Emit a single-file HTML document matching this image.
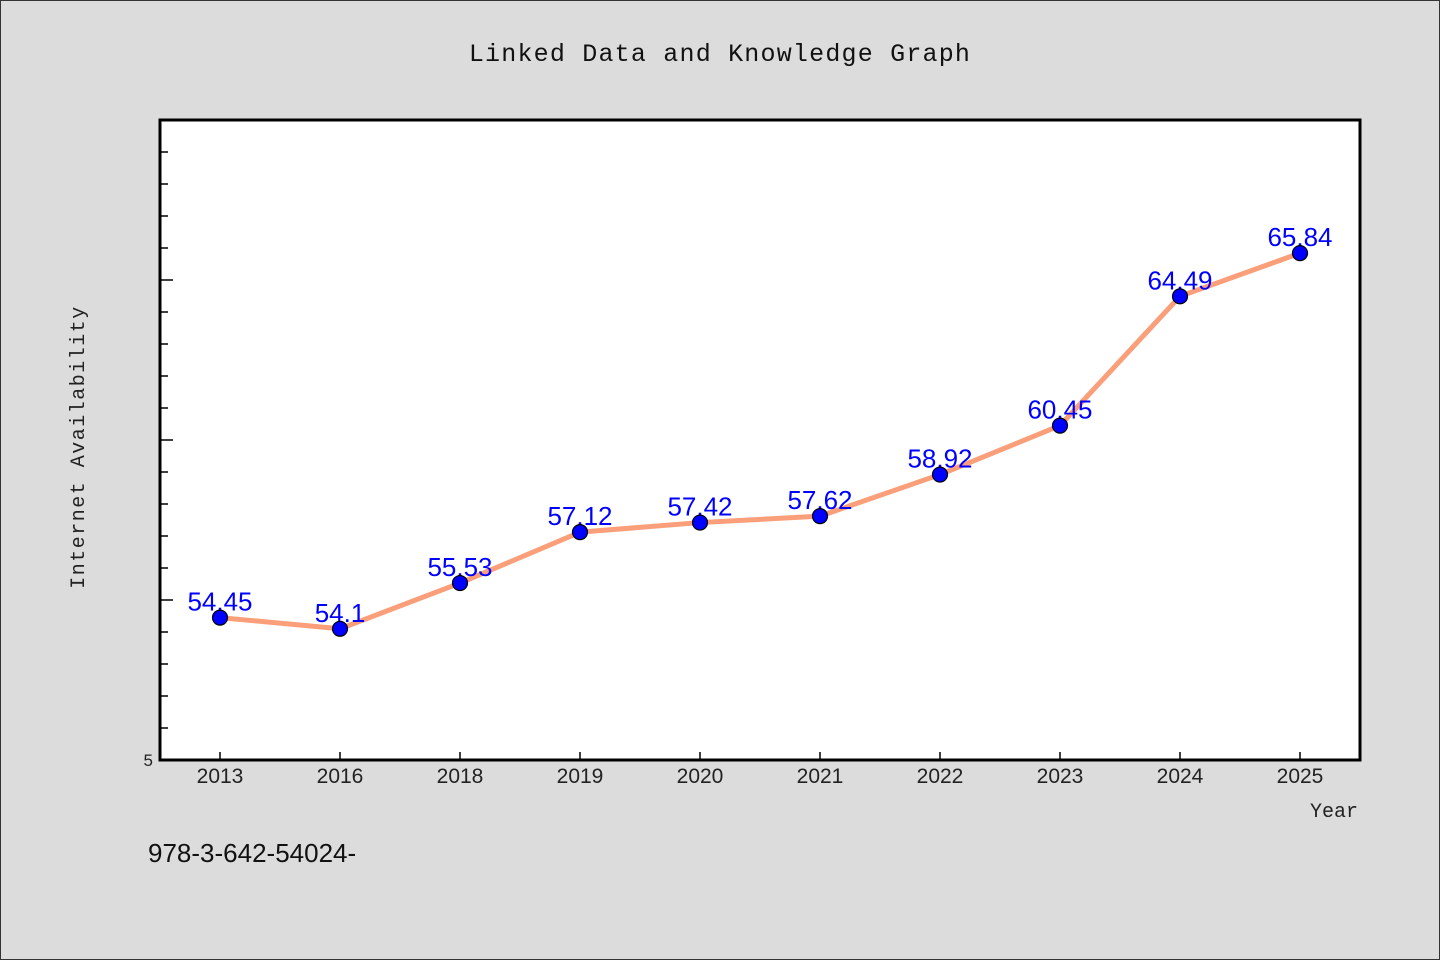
<!DOCTYPE html>
<html><head><meta charset="utf-8"><style>
html,body{margin:0;padding:0;background:#dcdcdc;}
svg{display:block;}
</style></head><body>
<svg id="chart" width="1440" height="960" xmlns="http://www.w3.org/2000/svg">
<rect x="0.5" y="0.5" width="1439" height="959" fill="#dcdcdc" stroke="#333" stroke-width="1"/>
<text x="720" y="61" text-anchor="middle" font-family="Liberation Mono, monospace" font-size="25" letter-spacing="1.2" fill="#111">Linked Data and Knowledge Graph</text>
<rect x="160" y="120" width="1200" height="640" fill="#fff"/>
<g id="ticks"></g>
<g id="series"></g>
<rect x="160" y="120" width="1200" height="640" fill="none" stroke="#000" stroke-width="3"/>
<text transform="translate(84,447) rotate(-90)" text-anchor="middle" font-family="Liberation Mono, monospace" font-size="20" letter-spacing="1.5" fill="#222">Internet Availability</text>
<text x="1358" y="817" text-anchor="end" font-family="Liberation Mono, monospace" font-size="20" fill="#222">Year</text>
<text x="153" y="766" text-anchor="end" font-family="Liberation Sans, sans-serif" font-size="17" fill="#222">5</text>
<text x="148" y="862" font-family="Liberation Sans, sans-serif" font-size="26" fill="#111">978-3-642-54024-</text>
</svg>
<script>
const categories=["2013","2016","2018","2019","2020","2021","2022","2023","2024","2025"];
const values=[54.45,54.1,55.53,57.12,57.42,57.62,58.92,60.45,64.49,65.84];
const valueLabels=["54.45","54.1","55.53","57.12","57.42","57.62","58.92","60.45","64.49","65.84"];
const yMin=50, yMax=70;
const NS="http://www.w3.org/2000/svg";
const L=160,R=1360,T=120,B=760;
function x(i){return L+(R-L)/categories.length*(i+0.5);}
function y(v){return B-(v-yMin)/(yMax-yMin)*(B-T);}
function mk(tag,attrs,parent,txt){const e=document.createElementNS(NS,tag);for(const k in attrs)e.setAttribute(k,attrs[k]);if(txt!==undefined)e.textContent=txt;parent.appendChild(e);return e;}
const tg=document.getElementById('ticks');
for(let v=yMin+1;v<yMax;v++){
  const len=(v%5===0)?13:8;
  const t=mk('line',{x1:L,x2:L+len,y1:y(v),y2:y(v),stroke:'#000','stroke-width':1.5},tg);
  
  
}
categories.forEach((c,i)=>{
  const t=mk('line',{x1:x(i),x2:x(i),y1:B,y2:B-8,stroke:'#000','stroke-width':1.5},tg);
  
  
  const lb=mk('text',{x:x(i),y:B+23,'text-anchor':'middle','font-family':'Liberation Sans, sans-serif','font-size':21,fill:'#222'},tg,c);
  
  
});
const sg=document.getElementById('series');
const pts=values.map((v,i)=>x(i)+','+y(v)).join(' ');
const line=mk('polyline',{points:pts,fill:'none',stroke:'#fa9f7a','stroke-width':5,'stroke-linejoin':'round'},sg);


values.forEach((v,i)=>{
  const lb=mk('text',{x:x(i),y:y(v)-7,'text-anchor':'middle','font-family':'Liberation Sans, sans-serif','font-size':26,fill:'#0000ff'},sg,valueLabels[i]);
  
  
});
values.forEach((v,i)=>{
  const c=mk('circle',{cx:x(i),cy:y(v),r:7.5,fill:'#0000ff',stroke:'#000','stroke-width':1.2},sg);
  
  
});
</script>
</body></html>
